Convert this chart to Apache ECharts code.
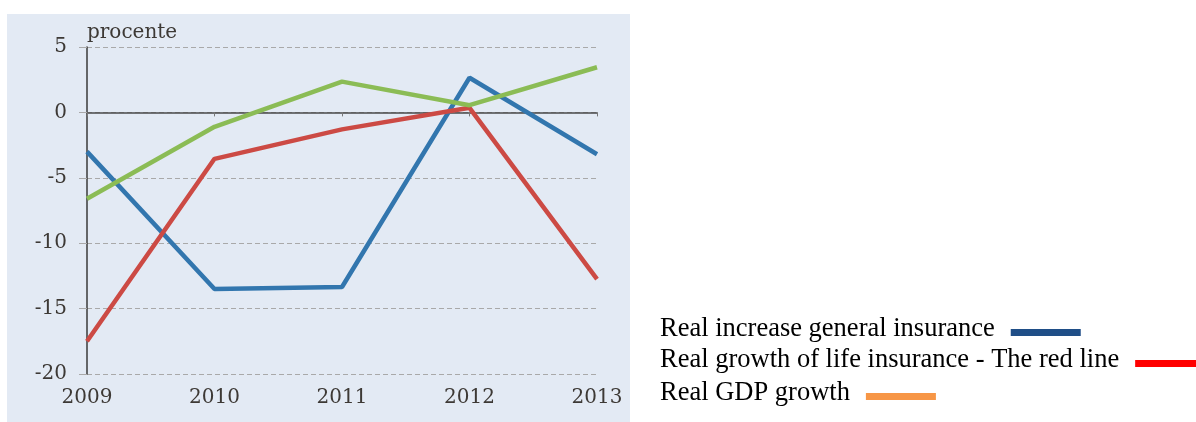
<!DOCTYPE html>
<html>
<head>
<meta charset="utf-8">
<script src="https://cdn.jsdelivr.net/npm/echarts@6/dist/echarts.min.js"></script>
<style>html,body{margin:0;padding:0;background:#fff;}#c{width:1196px;height:422px;}</style>
</head>
<body>
<div id="c"></div>
<script>
const years = ['2009', '2010', '2011', '2012', '2013'];
const generalInsurance = [-3.0, -13.5, -13.35, 2.65, -3.2];
const lifeInsurance = [-17.5, -3.55, -1.3, 0.35, -12.75];
const gdpGrowth = [-6.6, -1.1, 2.35, 0.55, 3.45];
const seriesNames = ['Real increase general insurance', 'Real growth of life insurance - The red line', 'Real GDP growth'];
const legendColors = ['#1f4e87', '#ff0000', '#f79646'];
const yTicks = { min: -20, max: 5, interval: 5 };
const axisName = 'procente';

const chart = echarts.init(document.getElementById('c'));
const labelFont = { fontFamily: 'DejaVu Serif', fontSize: 20, color: '#3d3935' };
const legendTops = [316, 347, 380];
const legends = seriesNames.map((n, i) => ({
  orient: 'horizontal', left: 660, top: legendTops[i], align: 'right', padding: 0,
  itemWidth: 70, itemHeight: 7, icon: 'rect', selectedMode: false,
  formatter: s => '{t|' + s + '}',
  textStyle: { fontFamily: 'Liberation Serif', fontSize: 26.5, color: '#000',
    rich: { t: { fontFamily: 'Liberation Serif', fontSize: 26.5, color: '#000', lineHeight: 26, padding: [0, 11, 6, 0] } } },
  data: [{ name: n, itemStyle: { color: legendColors[i] } }]
}));
chart.setOption({
  animation: false,
  backgroundColor: '#fff',
  graphic: [{ type: 'rect', z: -10, shape: { x: 7, y: 14, width: 623, height: 408 }, style: { fill: '#e3eaf4' } }],
  grid: { left: 87, right: 599, top: 47, bottom: 48 },
  xAxis: [{
    type: 'category', data: years, boundaryGap: false,
    axisLine: { show: false, onZero: false }, axisTick: { show: false },
    axisLabel: Object.assign({ margin: 14 }, labelFont)
  }, {
    type: 'category', data: years, boundaryGap: false, position: 'bottom',
    axisLine: { show: true, onZero: true, lineStyle: { color: '#4a4a4a', width: 1.5 } },
    axisTick: { show: true, length: 4, alignWithLabel: true, lineStyle: { color: '#777' } },
    axisLabel: { show: false }
  }],
  yAxis: {
    type: 'value', min: yTicks.min, max: yTicks.max, interval: yTicks.interval,
    name: axisName, nameLocation: 'end', nameGap: 4,
    nameTextStyle: Object.assign({ align: 'left', padding: [0, 0, 0, 0] }, labelFont),
    axisLine: { show: true, lineStyle: { color: '#3a3a3a', width: 1.5 } },
    axisTick: { show: true, length: 8, lineStyle: { color: '#a9a9a9' } },
    axisLabel: Object.assign({ margin: 20 }, labelFont),
    splitLine: { show: true, lineStyle: { color: '#a9a9a9', type: [5, 3], width: 1 } }
  },
  legend: legends,
  series: [
    { name: seriesNames[0], type: 'line', data: generalInsurance, symbol: 'none', lineStyle: { color: '#3276ae', width: 4.5 }, itemStyle: { color: '#3276ae' } },
    { name: seriesNames[1], type: 'line', data: lifeInsurance, symbol: 'none', lineStyle: { color: '#cc4a44', width: 4.5 }, itemStyle: { color: '#cc4a44' } },
    { name: seriesNames[2], type: 'line', data: gdpGrowth, symbol: 'none', lineStyle: { color: '#8bbc55', width: 4.5 }, itemStyle: { color: '#8bbc55' } }
  ]
});
</script>
</body>
</html>
